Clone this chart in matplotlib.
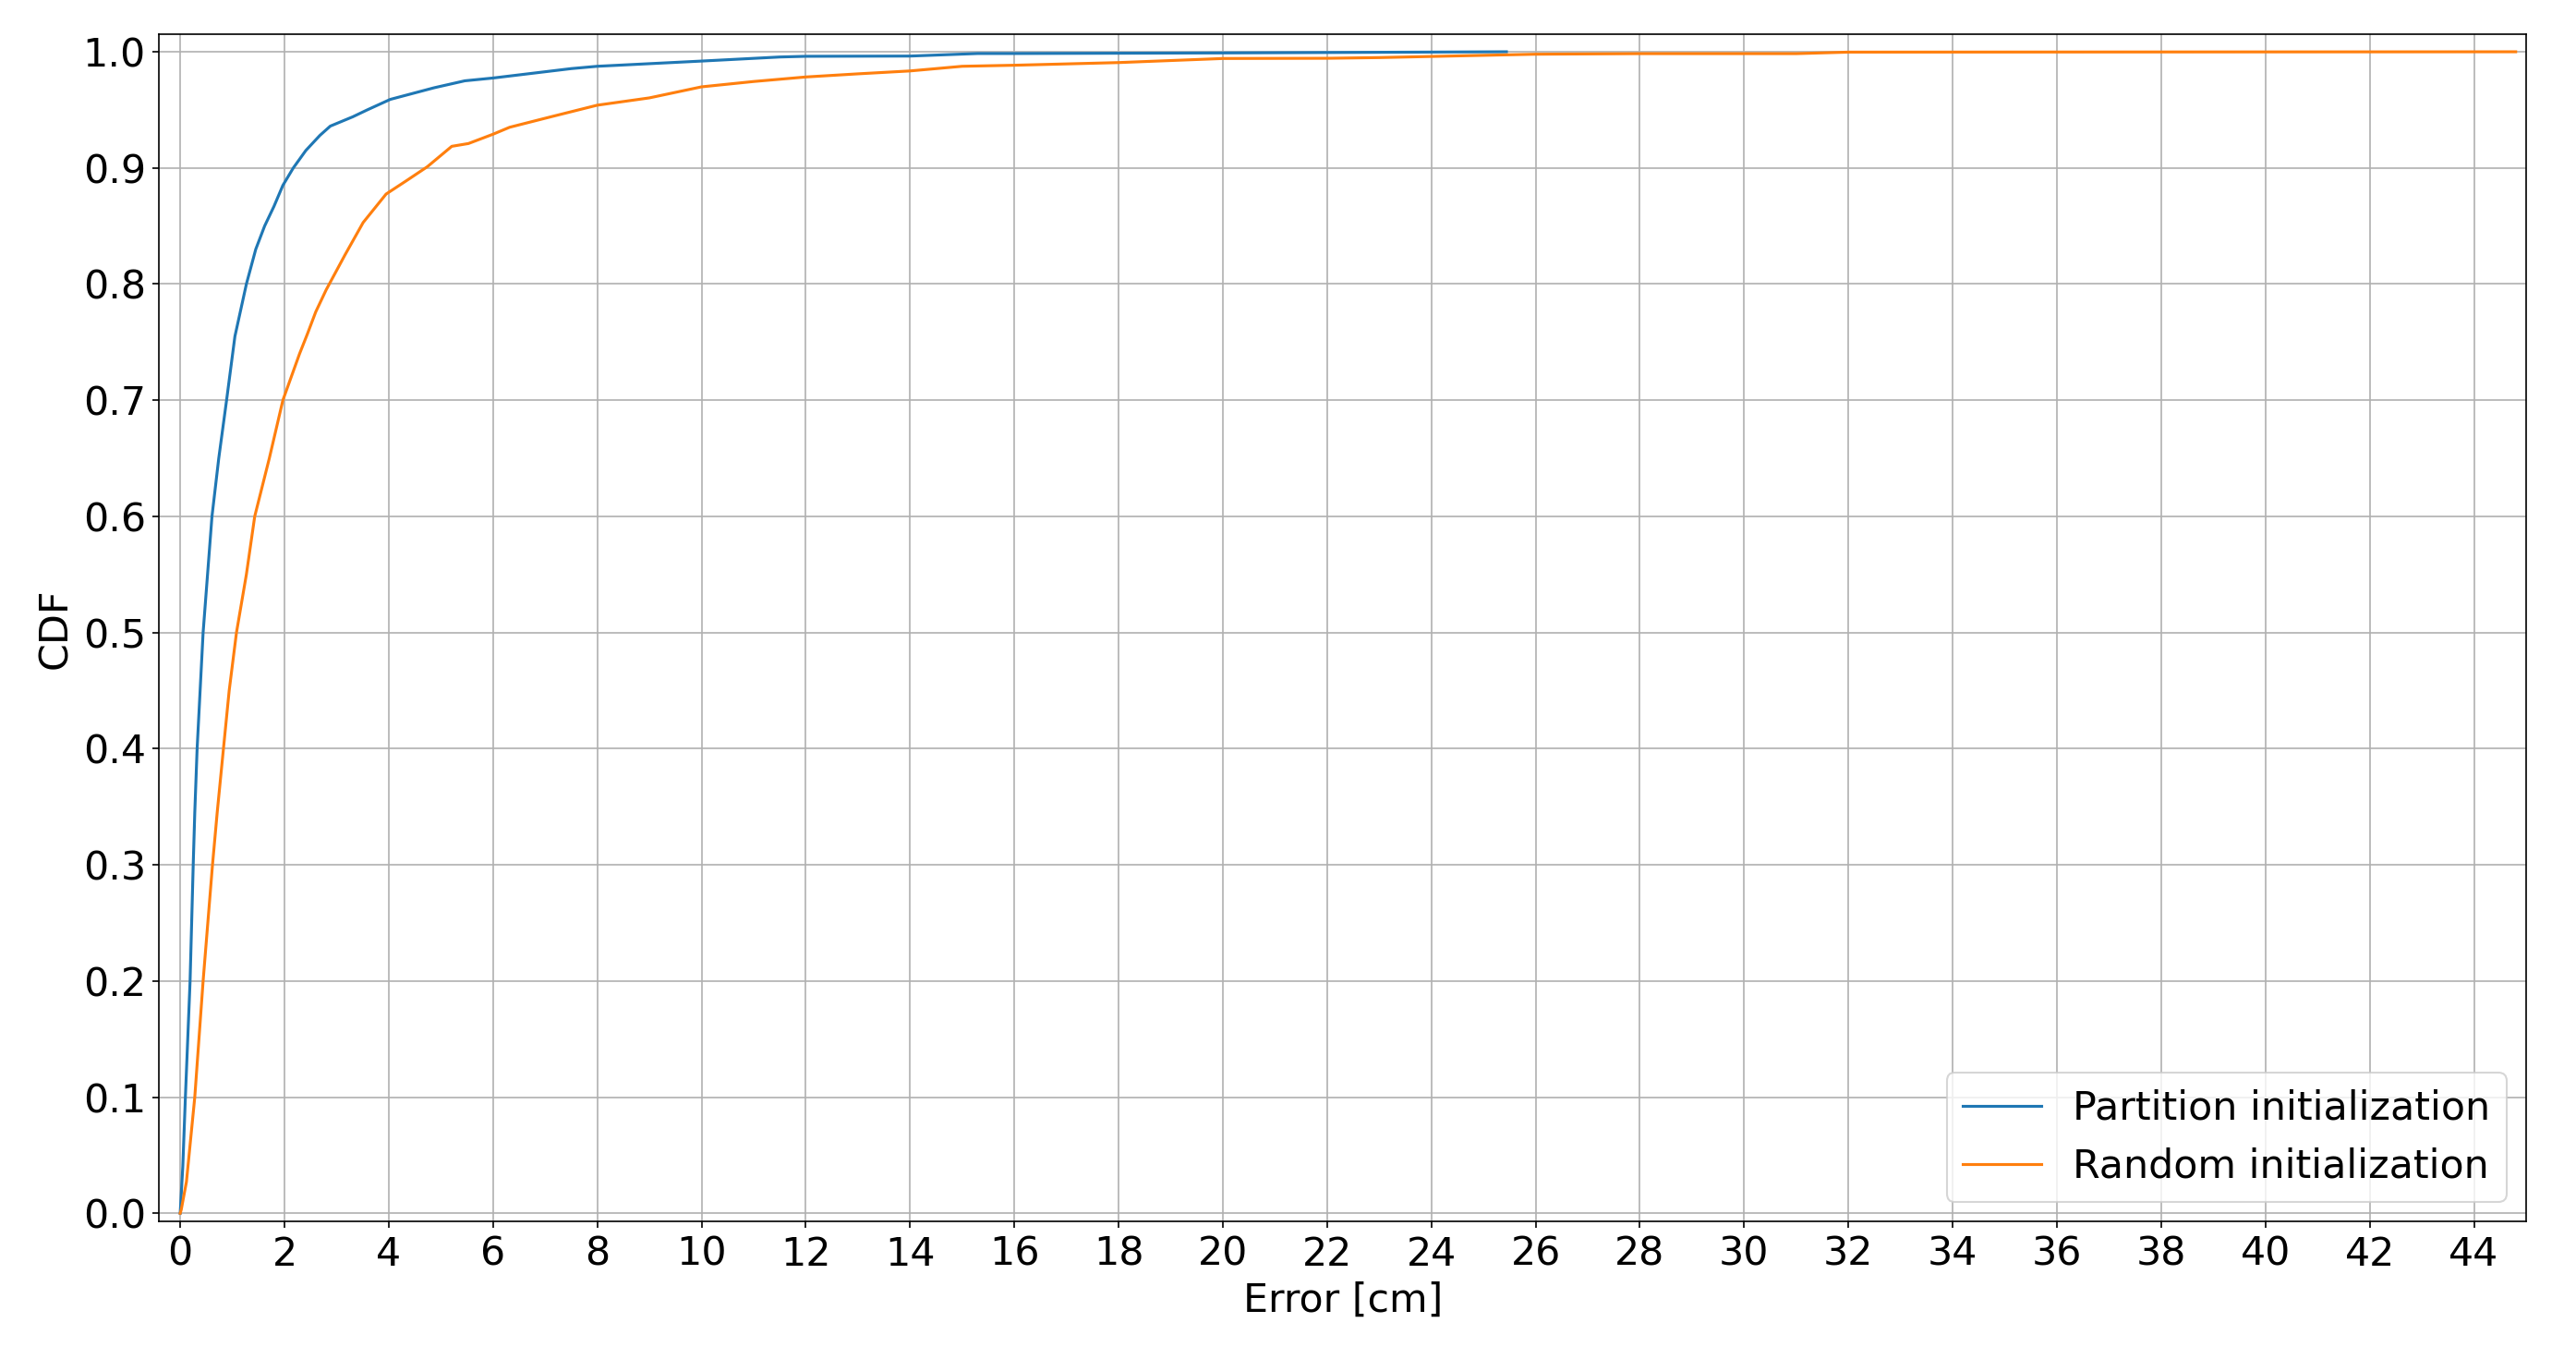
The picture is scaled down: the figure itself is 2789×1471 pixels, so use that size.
import matplotlib
matplotlib.use("Agg")
import matplotlib.pyplot as plt

# ---- data ----
partition_err = [0, 0.05, 0.10, 0.19, 0.25, 0.28, 0.325, 0.44, 0.61, 0.74, 0.89, 1.05,
                 1.27, 1.45, 1.62, 1.80, 1.97, 2.17, 2.41, 2.68, 2.88, 3.31, 3.59, 4.03, 4.87,
                 5.46, 6.0, 7.5, 8.0, 10.0, 11.5, 12.0, 14.0, 15.3, 16.0, 20.0, 25.44]
partition_cdf = [0, 0.04, 0.10, 0.20, 0.30, 0.345, 0.40, 0.50, 0.60, 0.65, 0.70, 0.755,
                 0.800, 0.830, 0.850, 0.867, 0.885, 0.900, 0.915, 0.928, 0.936, 0.944, 0.950, 0.959, 0.969,
                 0.975, 0.9774, 0.9855, 0.9875, 0.9920, 0.9955, 0.9961, 0.9963, 0.9985, 0.9985, 0.999, 1.0]

random_err = [0, 0.02, 0.12, 0.28, 0.44, 0.62, 0.71, 0.83, 0.94, 1.08, 1.27, 1.43, 1.71,
              1.97, 2.29, 2.44, 2.60, 2.80, 3.16, 3.51, 3.95, 4.34, 4.74, 5.21, 5.53,
              6.0, 6.32, 7.11, 8.0, 9.0, 10.0, 11.0, 12.0, 13.0, 14.0, 15.0, 16.0, 18.0,
              20.0, 22.0, 23.0, 26.0, 28.0, 31.0, 32.0, 44.8]
random_cdf = [0, 0.003, 0.027, 0.10, 0.20, 0.30, 0.345, 0.40, 0.45, 0.50, 0.55, 0.60, 0.65,
              0.70, 0.74, 0.757, 0.776, 0.795, 0.825, 0.853, 0.8775, 0.889, 0.901, 0.9186, 0.921,
              0.929, 0.935, 0.944, 0.954, 0.9603, 0.9698, 0.9744, 0.9783, 0.981, 0.9835, 0.9875, 0.9884, 0.9907,
              0.9942, 0.9944, 0.995, 0.9979, 0.9984, 0.9984, 0.9997, 1.0]

series_labels = ["Partition initialization", "Random initialization"]
x_ticks = list(range(0, 45, 2))
y_ticks = [round(0.1 * i, 1) for i in range(11)]

# ---- figure ----
DPI = 150
plt.rcParams['font.family'] = ['DejaVu Sans']
plt.rcParams['font.size'] = 20.5

fig = plt.figure(figsize=(2789 / DPI, 1471 / DPI), dpi=DPI)
ax = fig.add_axes([0.06185, 0.10109, 0.98064 - 0.06185, 0.97464 - 0.10109])

ax.plot(partition_err, partition_cdf, color="C0", lw=1.5, label=series_labels[0])
ax.plot(random_err, random_cdf, color="C1", lw=1.5, label=series_labels[1])

ax.set_xlim(-0.4, 45.0)
ax.set_ylim(-0.0072, 1.0149)
ax.set_xticks(x_ticks)
ax.set_yticks(y_ticks)
ax.set_yticklabels([f"{v:.1f}" for v in y_ticks])
ax.grid(True)
ax.set_xlabel("Error [cm]")
ax.set_ylabel("CDF")
ax.legend(loc="lower right")

fig.savefig("out.png", dpi=DPI)
